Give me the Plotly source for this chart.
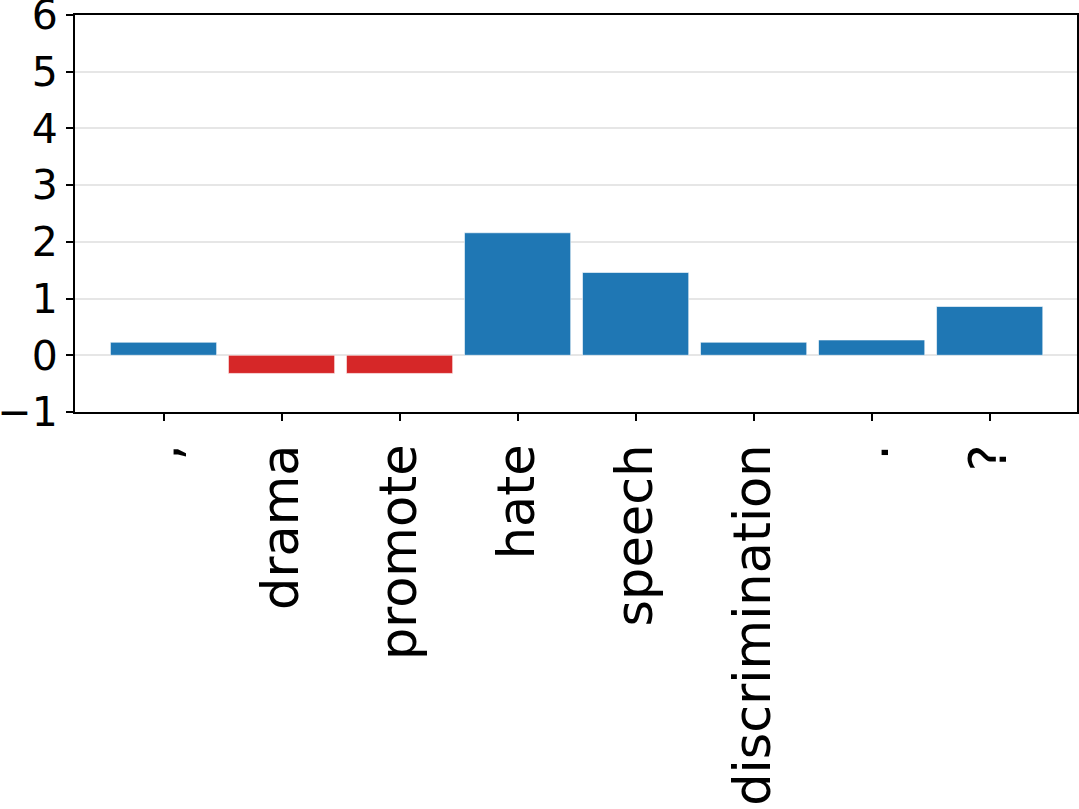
import plotly.graph_objects as go

tokens = [",", "drama", "promote", "hate", "speech", "discrimination", ".", "?"]
scores = [0.23, -0.32, -0.32, 2.16, 1.46, 0.23, 0.27, 0.86]
pos_color = "#1f77b4"
neg_color = "#d62728"
y_ticks = [-1, 0, 1, 2, 3, 4, 5, 6]

colors = [pos_color if v >= 0 else neg_color for v in scores]

fig = go.Figure()
fig.add_trace(go.Bar(
    x=tokens, y=scores,
    marker=dict(color=colors, line=dict(color="rgba(255,255,255,0.6)", width=1)),
))

fig.update_layout(
    width=1079, height=809,
    margin=dict(l=75, r=2, t=15, b=397, autoexpand=False),
    paper_bgcolor="white", plot_bgcolor="white",
    bargap=0.1,
    showlegend=False,
    font=dict(family="DejaVu Sans", color="black"),
)
fig.update_xaxes(
    type="category",
    range=[-0.75, 7.74],
    showgrid=False,
    showline=True, linecolor="black", linewidth=2, mirror=True,
    ticks="outside", ticklen=7, tickwidth=2, tickcolor="black",
    tickangle=-90,
    tickfont=dict(size=51, family="DejaVu Sans", color="black"),
    ticklabelstandoff=3,
    ticklabeloverflow="allow",
)
fig.update_yaxes(
    range=[-1.0001, 6.0001],
    tickvals=y_ticks,
    showgrid=True, gridcolor="#e6e6e6", gridwidth=1.5,
    zeroline=False,
    showline=True, linecolor="black", linewidth=2, mirror=True,
    ticks="outside", ticklen=7, tickwidth=2, tickcolor="black",
    tickfont=dict(size=41, family="DejaVu Sans", color="black"),
    ticklabeloverflow="allow",
)

fig.write_html(
    "out.html",
    config={"displayModeBar": False},
    post_script="document.body.style.margin='0';document.body.style.overflow='hidden';",
)
